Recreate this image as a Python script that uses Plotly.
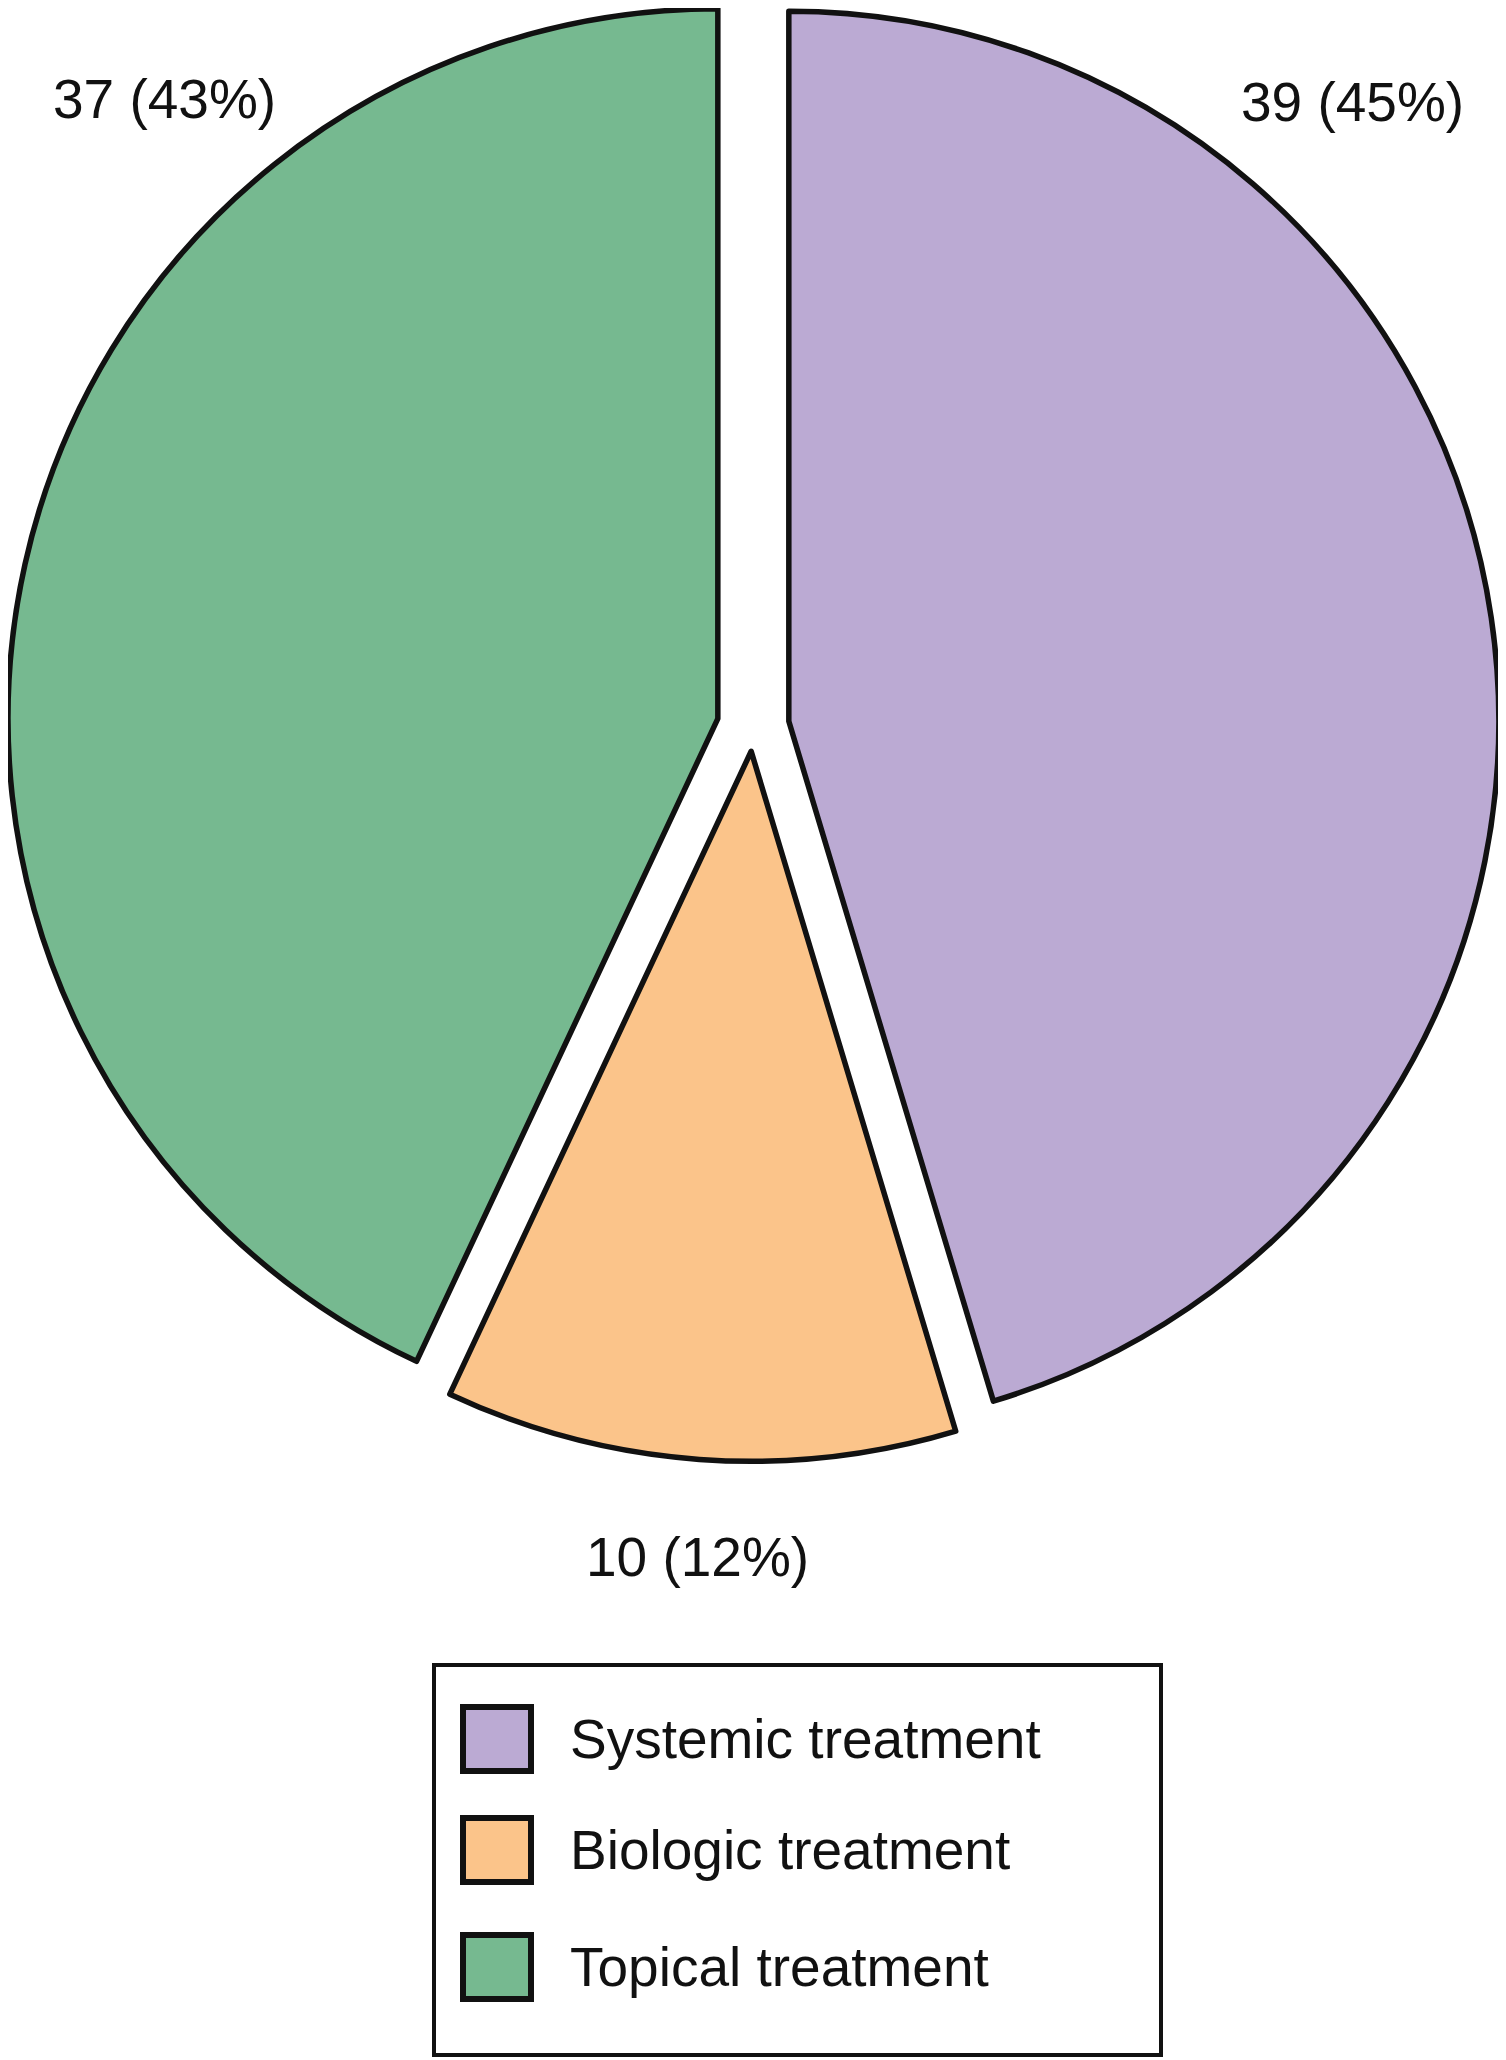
import math
import plotly.graph_objects as go

# ---- data ----
labels = ["Systemic treatment", "Biologic treatment", "Topical treatment"]
values = [39, 10, 37]
colors = ["#BBAAD3", "#FBC48A", "#76B990"]
pulls = [0.051, 0.035, 0.051]   # explode fraction of radius per slice

total = sum(values)
pct_text = [f"{v} ({round(100 * v / total)}%)" for v in values]

# ---- layout geometry (page pixels; the page body adds an 8px offset) ----
OFF = 8
W, H = 1506 - OFF, 2060 - OFF
FONT = "Liberation Sans, Arial, Helvetica, sans-serif"
INK = "#111111"
CX, CY, R = 753, 726.5, 710      # pie centre (page px) and radius


def px(x):
    return (x - OFF) / W


def py(y):
    return 1 - (y - OFF) / H


fig = go.Figure()

# one trace per exploded slice so every slice keeps the full radius;
# the other slices of each trace are left transparent
cum = 0
for i, (lab, v) in enumerate(zip(labels, values)):
    mid = 2 * math.pi * (cum + v / 2) / total        # clockwise from 12 o'clock
    cum += v
    d = pulls[i] * R
    sx = CX + d * math.sin(mid)
    sy = CY - d * math.cos(mid)
    fill = [c if j == i else "rgba(0,0,0,0)" for j, c in enumerate(colors)]
    lw = [5.5 if j == i else 0 for j in range(len(values))]
    ht = ["%{label}: %{value} (%{percent})<extra></extra>" if j == i else "<extra></extra>"
          for j in range(len(values))]
    fig.add_trace(go.Pie(
        labels=labels,
        values=values,
        sort=False,
        direction="clockwise",
        rotation=0,
        marker=dict(colors=fill, line=dict(color=INK, width=lw)),
        textinfo="none",
        hovertemplate=ht,
        showlegend=False,
        domain=dict(x=[max(0, px(sx - R)), min(1, px(sx + R))],
                    y=[max(0, py(sy + R)), min(1, py(sy - R))]),
    ))

# value labels (annotations)
label_pos = [(1352, 102), (697, 1557), (164, 99)]
annotations = []
for txt, (x, y) in zip(pct_text, label_pos):
    annotations.append(dict(
        x=px(x), y=py(y), xref="paper", yref="paper",
        text=txt, showarrow=False, xanchor="center", yanchor="middle",
        font=dict(family=FONT, size=55, color=INK),
    ))

# custom legend
shapes = [dict(type="rect", xref="paper", yref="paper",
               x0=px(434), x1=px(1161), y0=py(1665), y1=py(2055),
               line=dict(color=INK, width=4), fillcolor="white", layer="below")]
legend_y = [1739, 1850, 1967]
for lab, col, yc in zip(labels, colors, legend_y):
    shapes.append(dict(type="rect", xref="paper", yref="paper",
                       x0=px(463), x1=px(531), y0=py(yc - 32), y1=py(yc + 32),
                       line=dict(color=INK, width=6), fillcolor=col))
    annotations.append(dict(
        x=px(568), y=py(yc), xref="paper", yref="paper",
        text=lab, showarrow=False, xanchor="left", yanchor="middle",
        font=dict(family=FONT, size=55, color=INK),
    ))

fig.update_layout(
    width=W, height=H,
    margin=dict(l=0, r=0, t=0, b=0),
    paper_bgcolor="white", plot_bgcolor="white",
    annotations=annotations, shapes=shapes,
    showlegend=False,
)

fig.write_html("out.html")
